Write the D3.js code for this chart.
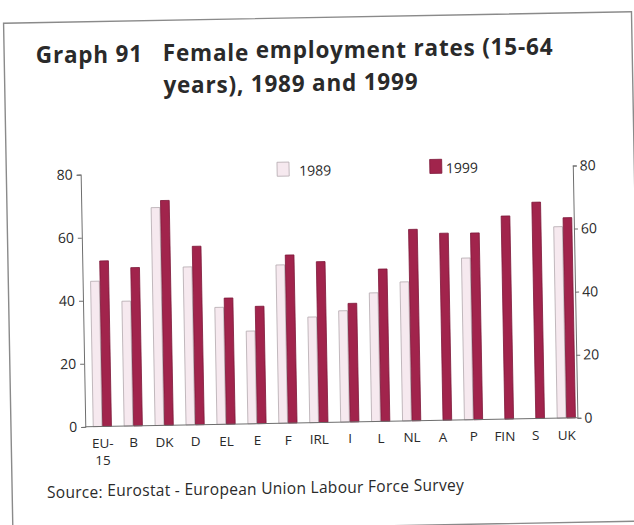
<!DOCTYPE html>
<html>
<head>
<meta charset="utf-8">
<script src="https://cdn.jsdelivr.net/npm/d3@7/dist/d3.min.js"></script>
<style>
  html, body { margin: 0; padding: 0; background: #fff; }
  svg { display: block; }
  text { font-family: "Open Sans", "Noto Sans", sans-serif; fill: #2a2a2a; }
</style>
</head>
<body>
<svg id="chart" width="634" height="525"></svg>
<script>
// ---- data ----
const categories = ["EU-15", "B", "DK", "D", "EL", "E", "F", "IRL", "I", "L", "NL", "A", "P", "FIN", "S", "UK"];
const years = ["1989", "1999"];
const values1989 = [46.1, 39.6, 69.1, 50.1, 37.1, 29.4, 50.2, 33.5, 35.3, 40.8, 44.1, null, 51.3, null, null, 60.7];
const values1999 = [52.5, 50.2, 71.3, 56.6, 40.0, 37.2, 53.3, 51.0, 37.6, 48.3, 60.7, 59.3, 59.2, 64.4, 68.6, 63.5];
const yTicks = [0, 20, 40, 60, 80];
const title1a = "Graph 91";
const title1b = "Female employment rates (15-64";
const title2 = "years), 1989 and 1999";
const sourceText = "Source: Eurostat - European Union Labour Force Survey";

const colors = { "1989": "#f6e9ef", "1999": "#a1244c" };
const strokes = { "1989": "#b3a9ae", "1999": "#7c1738" };

// the scanned page is tilted slightly
const ANG = -1.05, CX = 320, CY = 262;
const rad = ANG * Math.PI / 180;
function rot(px, py) {
  const dx = px - CX, dy = py - CY;
  return [CX + dx * Math.cos(rad) - dy * Math.sin(rad), CY + dx * Math.sin(rad) + dy * Math.cos(rad)];
}

const svg = d3.select("#chart");
const g = svg.append("g").attr("transform", `rotate(${ANG}, ${CX}, ${CY})`);
const gt = svg.append("g"); // texts placed word by word along the tilt

// frame
g.append("rect")
  .attr("x", 8).attr("y", 17.5).attr("width", 628).attr("height", 509.5)
  .attr("fill", "none").attr("stroke", "#8a8a8a").attr("stroke-width", 1.4);

// place a string word by word along the tilted baseline
function tiltedText(str, x0, y0, attrs) {
  const words = str.split(" ");
  const probe = gt.append("text");
  Object.entries(attrs).forEach(([k, v]) => probe.attr(k, v));
  const measure = s => { probe.text(s); return probe.node().getComputedTextLength(); };
  words.forEach((w, i) => {
    const wl = measure(w);
    const start = i > 0 ? measure(words.slice(0, i + 1).join(" ")) - wl : 0;
    const [X, Y] = rot(x0 + start + wl / 2, y0);
    const t = gt.append("text").attr("x", X).attr("y", Y).attr("text-anchor", "middle").text(w);
    Object.entries(attrs).forEach(([k, v]) => t.attr(k, v));
  });
  probe.remove();
}

// title
const tAttr = { "font-size": 22.5, "font-weight": 700, "letter-spacing": 0.8 };
tiltedText(title1a, 39.5, 58.6, tAttr);
tiltedText(title1b, 166.5, 58.6, tAttr);
tiltedText(title2, 166.5, 91.2, tAttr);

// scales
const x = d3.scaleBand().domain(categories).range([83.9, 578.9]).paddingInner(0).paddingOuter(0);
const xSub = d3.scaleBand().domain(years).range([-9.5, 9.5]);
const y = d3.scaleLinear().domain([0, 80]).range([422.5, 170.2]);

const leftX = 82.3, rightX = 574.5;

// axes
const leftAxis = d3.axisLeft(y).tickValues(yTicks).tickSize(4).tickPadding(4);
const rightAxis = d3.axisRight(y).tickValues(yTicks).tickSize(4).tickPadding(3);

const gl = g.append("g").attr("transform", `translate(${leftX},0)`).call(leftAxis);
const gr = g.append("g").attr("transform", `translate(${rightX},0)`).call(rightAxis);
[gl, gr].forEach(a => {
  a.select(".domain").attr("stroke", "#6e6e6e").attr("stroke-width", 1);
  a.selectAll(".tick line").attr("stroke", "#6e6e6e");
  a.selectAll(".tick text").attr("font-size", 14).attr("fill", "#2a2a2a")
    .attr("font-family", "\"Open Sans\", \"Noto Sans\", sans-serif");
});

// bars
const rows = categories.map((c, i) => ({ c, "1989": values1989[i], "1999": values1999[i] }));
const groups = g.append("g").selectAll("g").data(rows).join("g")
  .attr("transform", d => `translate(${x(d.c) + x.bandwidth() / 2},0)`);
groups.selectAll("rect")
  .data(d => years.filter(yr => d[yr] != null).map(yr => ({ yr, v: d[yr] })))
  .join("rect")
  .attr("x", d => xSub(d.yr) + 0.4)
  .attr("width", xSub.bandwidth() - 0.8)
  .attr("y", d => y(d.v))
  .attr("height", d => y(0) - y(d.v))
  .attr("fill", d => colors[d.yr])
  .attr("stroke", d => strokes[d.yr])
  .attr("stroke-width", 0.8);

// baseline
g.append("line").attr("x1", leftX).attr("x2", rightX).attr("y1", y(0)).attr("y2", y(0))
  .attr("stroke", "#6e6e6e").attr("stroke-width", 1);

// x labels (EU-15 wraps onto two lines)
const labelLines = categories.flatMap(c => {
  const parts = c === "EU-15" ? ["EU-", "15"] : [c];
  return parts.map((p, k) => ({ c, p, k }));
});
gt.append("g").selectAll("text").data(labelLines).join("text")
  .attr("x", d => rot(x(d.c) + x.bandwidth() / 2, 444 + d.k * 16.8)[0])
  .attr("y", d => rot(x(d.c) + x.bandwidth() / 2, 444 + d.k * 16.8)[1])
  .attr("text-anchor", "middle")
  .attr("font-family", "Roboto, \"Open Sans\", sans-serif")
  .attr("font-size", 13.5)
  .text(d => d.p);

// legend
const legendPos = [{ yr: "1989", x: 278.8, tx: 22 }, { yr: "1999", x: 431.5, tx: 16 }];
const lg = g.append("g").selectAll("g").data(legendPos).join("g")
  .attr("transform", d => `translate(${d.x},161.5)`);
lg.append("rect").attr("width", 12).attr("height", 14)
  .attr("fill", d => colors[d.yr]).attr("stroke", d => strokes[d.yr]).attr("stroke-width", 0.8);
lg.append("text").attr("x", d => d.tx).attr("y", 14).attr("font-size", 14).text(d => d.yr);

// source
tiltedText(sourceText, 42.7, 493, { "font-size": 15.5, "letter-spacing": 0.3 });
</script>
</body>
</html>
